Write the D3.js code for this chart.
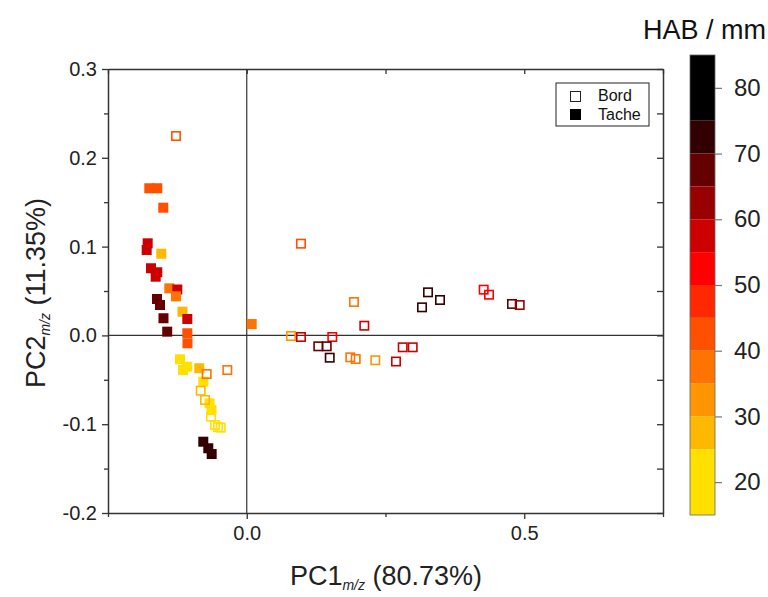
<!DOCTYPE html>
<html>
<head>
<meta charset="utf-8">
<script src="https://cdn.jsdelivr.net/npm/d3@7"></script>
<style>
  html, body { margin: 0; padding: 0; background: #fff; }
  svg { display: block; font-family: Arial, "Liberation Sans", sans-serif; }
</style>
</head>
<body>
<div id="chart"></div>
<script>
// PCA scores, PC1 vs PC2, coloured by height above burner (HAB)
const bordX   = [-0.1275, 0.0977, 0.1932, 0.2118, 0.0797, 0.0977, 0.1541, 0.1289, 0.1441, 0.1495, 0.1866, 0.1963, 0.2316,
                 0.2810, 0.2990, 0.2689, 0.3158, 0.3266, 0.3482, 0.4269, 0.4365, 0.4779, 0.4918,
                 -0.0350, -0.0722, -0.0830, -0.0752, -0.0644, -0.0572, -0.0469, -0.0518];
const bordY   = [0.2245, 0.1033, 0.0376, 0.0109, -0.0007, -0.0018, -0.0018, -0.0123, -0.0123, -0.0251, -0.0247, -0.0266, -0.0280,
                 -0.0134, -0.0134, -0.0294, 0.0316, 0.0485, 0.0399, 0.0515, 0.0458, 0.0354, 0.0342,
                 -0.0390, -0.0435, -0.0623, -0.0727, -0.0916, -0.1009, -0.1039, -0.1032];
const bordHAB = [42, 42, 37, 57, 33, 57, 52, 68, 68, 72, 37, 37, 33,
                 55, 55, 55, 72, 72, 72, 52, 52, 67, 62,
                 37, 35, 28, 28, 24, 24, 22, 22];

const tacheX   = [-0.1756, -0.1612, -0.1504, -0.1785, -0.1803, -0.1540, -0.1725, -0.1612, -0.1641, -0.1395, -0.1251, -0.1275,
                  -0.1617, -0.1563, -0.1500, -0.1433, -0.1158, -0.1071, -0.1071, -0.1068, 0.0089,
                  -0.1203, -0.1071, -0.1149, -0.0855, -0.0783, -0.0671, -0.0635, -0.0783, -0.0693, -0.0632];
const tacheY   = [0.1657, 0.1657, 0.1438, 0.1037, 0.0962, 0.0920, 0.0756, 0.0711, 0.0661, 0.0530, 0.0517, 0.0440,
                  0.0410, 0.0342, 0.0193, 0.0042, 0.0267, 0.0185, 0.0024, -0.0089, 0.0128,
                  -0.0269, -0.0352, -0.0390, -0.0370, -0.0521, -0.0765, -0.0840, -0.1197, -0.1271, -0.1336];
const tacheHAB = [43, 43, 43, 57, 58, 27, 57, 55, 57, 37, 58, 37,
                  67, 67, 67, 67, 27, 57, 43, 40, 37,
                  20, 20, 20, 27, 24, 24, 24, 73, 73, 73];

const habBreaks = [25, 30, 35, 40, 45, 50, 55, 60, 65, 70, 75];
const habColors = ['#ffe000', '#ffb800', '#ff9500', '#ff7300', '#ff5000', '#ff2800', '#ff0000',
                   '#cc0000', '#990000', '#640000', '#320000', '#000000'];
const habTicks = [20, 30, 40, 50, 60, 70, 80];
const xTicks = [0, 0.5];
const xMinor = [-0.25, 0.25, 0.75];
const yTicks = [-0.2, -0.1, 0.0, 0.1, 0.2, 0.3];
const yMinor = [-0.15, -0.05, 0.05, 0.15, 0.25];

const W = 768, H = 597;
const plot = {left: 108, right: 663, top: 69, bottom: 513};

const svg = d3.select('#chart').append('svg').attr('width', W).attr('height', H);

const x = d3.scaleLinear().domain([-0.25, 0.75]).range([plot.left, plot.right]);
const y = d3.scaleLinear().domain([-0.2, 0.3]).range([plot.bottom, plot.top]);
const color = d3.scaleThreshold().domain(habBreaks).range(habColors);
const fmt = v => d3.format('.1f')(v).replace('\u2212', '-');

// zero lines
svg.append('line').attr('x1', x(0)).attr('x2', x(0)).attr('y1', plot.top).attr('y2', plot.bottom)
  .attr('stroke', '#333').attr('stroke-width', 1.2);
svg.append('line').attr('x1', plot.left).attr('x2', plot.right).attr('y1', y(0)).attr('y2', y(0))
  .attr('stroke', '#333').attr('stroke-width', 1.2);

// axes (outer ticks on bottom/left, inner on top/right)
const ax = (g) => g.selectAll('.domain').attr('stroke', '#333').attr('stroke-width', 1.5);
svg.append('g').attr('transform', `translate(0,${plot.bottom})`)
  .call(d3.axisBottom(x).tickValues(xTicks).tickFormat(fmt).tickSize(6).tickSizeOuter(0).tickPadding(7))
  .call(ax).call(g => g.selectAll('text').attr('font-size', 20).attr('fill', '#222'))
  .call(g => g.selectAll('.tick line').attr('stroke', '#333').attr('stroke-width', 1.3));
svg.append('g').attr('transform', `translate(0,${plot.bottom})`)
  .call(d3.axisBottom(x).tickValues(xMinor).tickFormat('').tickSize(4).tickSizeOuter(0))
  .call(g => g.select('.domain').remove())
  .call(g => g.selectAll('.tick line').attr('stroke', '#333').attr('stroke-width', 1.3));
svg.append('g').attr('transform', `translate(0,${plot.top})`)
  .call(d3.axisTop(x).tickValues(xTicks.concat(xMinor)).tickFormat('').tickSize(-5).tickSizeOuter(0))
  .call(ax).call(g => g.selectAll('.tick line').attr('stroke', '#333').attr('stroke-width', 1.3));

svg.append('g').attr('transform', `translate(${plot.left},0)`)
  .call(d3.axisLeft(y).tickValues(yTicks).tickFormat(fmt).tickSize(6).tickSizeOuter(0).tickPadding(5))
  .call(ax).call(g => g.selectAll('text').attr('font-size', 20).attr('fill', '#222'))
  .call(g => g.selectAll('.tick line').attr('stroke', '#333').attr('stroke-width', 1.3));
svg.append('g').attr('transform', `translate(${plot.left},0)`)
  .call(d3.axisLeft(y).tickValues(yMinor).tickFormat('').tickSize(4).tickSizeOuter(0))
  .call(g => g.select('.domain').remove())
  .call(g => g.selectAll('.tick line').attr('stroke', '#333').attr('stroke-width', 1.3));
svg.append('g').attr('transform', `translate(${plot.right},0)`)
  .call(d3.axisRight(y).tickValues(yTicks.concat(yMinor)).tickFormat('').tickSize(-6).tickSizeOuter(0))
  .call(ax).call(g => g.selectAll('.tick line').attr('stroke', '#333').attr('stroke-width', 1.3));

// points
const S = 10;
const bord = bordX.map((v, i) => ({x: v, y: bordY[i], h: bordHAB[i]}));
const tache = tacheX.map((v, i) => ({x: v, y: tacheY[i], h: tacheHAB[i]}));

svg.append('g').selectAll('rect').data(tache).join('rect')
  .attr('x', d => x(d.x) - S / 2).attr('y', d => y(d.y) - S / 2)
  .attr('width', S).attr('height', S)
  .attr('fill', d => color(d.h));

svg.append('g').selectAll('rect').data(bord).join('rect')
  .attr('x', d => x(d.x) - (S - 1.6) / 2).attr('y', d => y(d.y) - (S - 1.6) / 2)
  .attr('width', S - 1.6).attr('height', S - 1.6)
  .attr('fill', 'none').attr('stroke', d => color(d.h)).attr('stroke-width', 1.6);

// legend
const lg = svg.append('g').attr('transform', 'translate(556,83)');
lg.append('rect').attr('width', 93).attr('height', 43).attr('fill', '#fff').attr('stroke', '#222').attr('stroke-width', 1);
lg.append('rect').attr('x', 14.5).attr('y', 8.5).attr('width', 10).attr('height', 10)
  .attr('fill', '#fff').attr('stroke', '#222').attr('stroke-width', 1);
lg.append('rect').attr('x', 14).attr('y', 26).attr('width', 11).attr('height', 11).attr('fill', '#000');
lg.append('text').attr('x', 42).attr('y', 18).attr('font-size', 16).attr('fill', '#111').text('Bord');
lg.append('text').attr('x', 42).attr('y', 37).attr('font-size', 16).attr('fill', '#111').text('Tache');

// colour bar
const cb = {left: 690, width: 25, top: 55, bottom: 515};
const cy = d3.scaleLinear().domain([15, 85]).range([cb.bottom, cb.top]);
const bins = d3.pairs([15].concat(habBreaks, [85]));
svg.append('g').selectAll('rect').data(bins).join('rect')
  .attr('x', cb.left).attr('width', cb.width)
  .attr('y', d => cy(d[1])).attr('height', d => cy(d[0]) - cy(d[1]))
  .attr('fill', d => color(d[0]));
svg.append('rect').attr('x', cb.left).attr('y', cb.top).attr('width', cb.width).attr('height', cb.bottom - cb.top)
  .attr('fill', 'none').attr('stroke', '#666').attr('stroke-width', 0.8);
svg.append('g').attr('transform', `translate(${cb.left + cb.width},0)`)
  .call(d3.axisRight(cy).tickValues(habTicks).tickSize(7).tickPadding(12))
  .call(g => g.select('.domain').remove())
  .call(g => g.selectAll('.tick line').attr('stroke', '#777').attr('stroke-width', 1.2))
  .call(g => g.selectAll('text').attr('font-size', 24).attr('fill', '#222'));
svg.append('text').attr('x', 766).attr('y', 39).attr('text-anchor', 'end')
  .attr('font-size', 27).attr('fill', '#111').text('HAB / mm');

// axis titles
const xt = svg.append('text').attr('x', 386).attr('y', 585).attr('text-anchor', 'middle')
  .attr('font-size', 27).attr('fill', '#222');
xt.append('tspan').text('PC1');
xt.append('tspan').attr('font-size', 14).attr('font-style', 'italic').attr('dy', 5).text('m/z');
xt.append('tspan').attr('dy', -5).text(' (80.73%)');

const yt = svg.append('text').attr('transform', 'translate(45,293) rotate(-90)').attr('text-anchor', 'middle')
  .attr('font-size', 27).attr('fill', '#222');
yt.append('tspan').text('PC2');
yt.append('tspan').attr('font-size', 14).attr('font-style', 'italic').attr('dy', 5).text('m/z');
yt.append('tspan').attr('dy', -5).text(' (11.35%)');
</script>
</body>
</html>
